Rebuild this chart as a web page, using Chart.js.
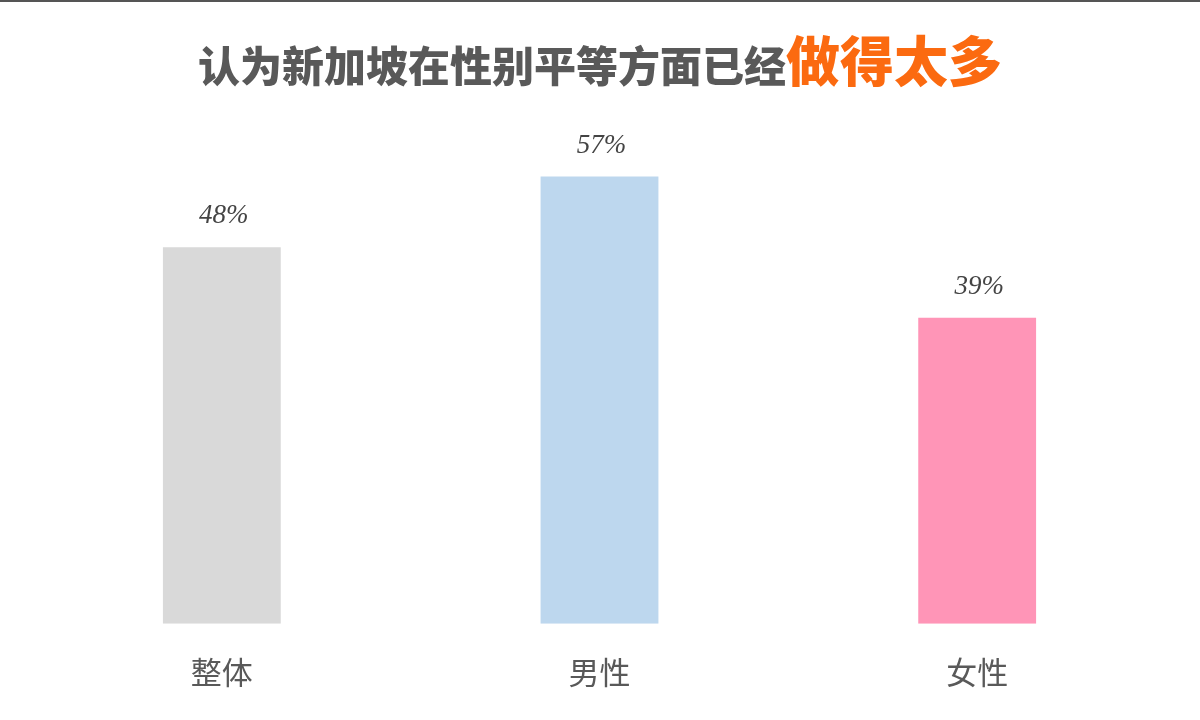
<!DOCTYPE html>
<html>
<head>
<meta charset="utf-8">
<script src="https://cdn.jsdelivr.net/npm/chart.js@4.4.1/dist/chart.umd.min.js"></script>
<style>
  html, body { margin: 0; padding: 0; background: #fff; }
  #wrap { width: 1200px; height: 720px; }
</style>
</head>
<body>
<div id="wrap"><canvas id="genderChart" width="1200" height="720"></canvas></div>
<script>
// data
const categories = ['整体', '男性', '女性'];
const shares = [48, 57, 39];
const barColors = ['#d9d9d9', '#bdd7ee', '#ff95b7'];
const titleMain = '认为新加坡在性别平等方面已经';
const titleAccent = '做得太多';

const cjk = '"Noto Sans CJK SC", "Noto Sans", sans-serif';

// title with two colours, plus the thin rule at the top edge
const titlePlugin = {
    id: 'twoToneTitle',
    afterDraw(chart) {
        const ctx = chart.ctx;
        ctx.save();
        ctx.fillStyle = '#555555';
        ctx.fillRect(0, 0, chart.width, 2);

        const mainFont = '900 42px ' + cjk;
        const accentFont = '900 54px ' + cjk;
        ctx.font = mainFont;
        const w1 = ctx.measureText(titleMain).width;
        ctx.font = accentFont;
        const w2 = ctx.measureText(titleAccent).width;
        let x = (chart.width - w1 - w2) / 2;
        const baseline = 82;
        ctx.textBaseline = 'alphabetic';
        ctx.textAlign = 'left';
        ctx.font = mainFont;
        ctx.fillStyle = '#595959';
        ctx.fillText(titleMain, x, baseline);
        ctx.font = accentFont;
        ctx.fillStyle = '#fb6a10';
        ctx.fillText(titleAccent, x + w1, baseline);
        ctx.restore();
    }
};

// percentage labels above each bar
const valueLabels = {
    id: 'valueLabels',
    afterDatasetsDraw(chart) {
        const ctx = chart.ctx;
        const meta = chart.getDatasetMeta(0);
        ctx.save();
        ctx.font = 'italic 27px "Liberation Serif", "DejaVu Serif", serif';
        ctx.fillStyle = '#444444';
        ctx.textAlign = 'center';
        ctx.textBaseline = 'alphabetic';
        meta.data.forEach((bar, i) => {
            ctx.fillText(shares[i] + '%', bar.x + 2, bar.y - 24);
        });
        ctx.restore();
    }
};

new Chart(document.getElementById('genderChart'), {
    type: 'bar',
    data: {
        labels: categories,
        datasets: [{
            data: shares,
            backgroundColor: barColors,
            borderWidth: 0,
            barPercentage: 0.312,
            categoryPercentage: 1,
        }]
    },
    options: {
        responsive: false,
        animation: false,
        layout: {
            padding: { top: 153, left: 33, right: 34, bottom: 0 }
        },
        plugins: {
            legend: { display: false },
            tooltip: { enabled: false },
            title: { display: false },
        },
        scales: {
            x: {
                grid: { display: false, drawTicks: false },
                border: { display: false },
                ticks: {
                    padding: 29.5,
                    color: '#595959',
                    font: { family: cjk, size: 31 },
                }
            },
            y: {
                display: false,
                min: 0,
                max: 60,
            }
        }
    },
    plugins: [titlePlugin, valueLabels],
});
</script>
</body>
</html>
